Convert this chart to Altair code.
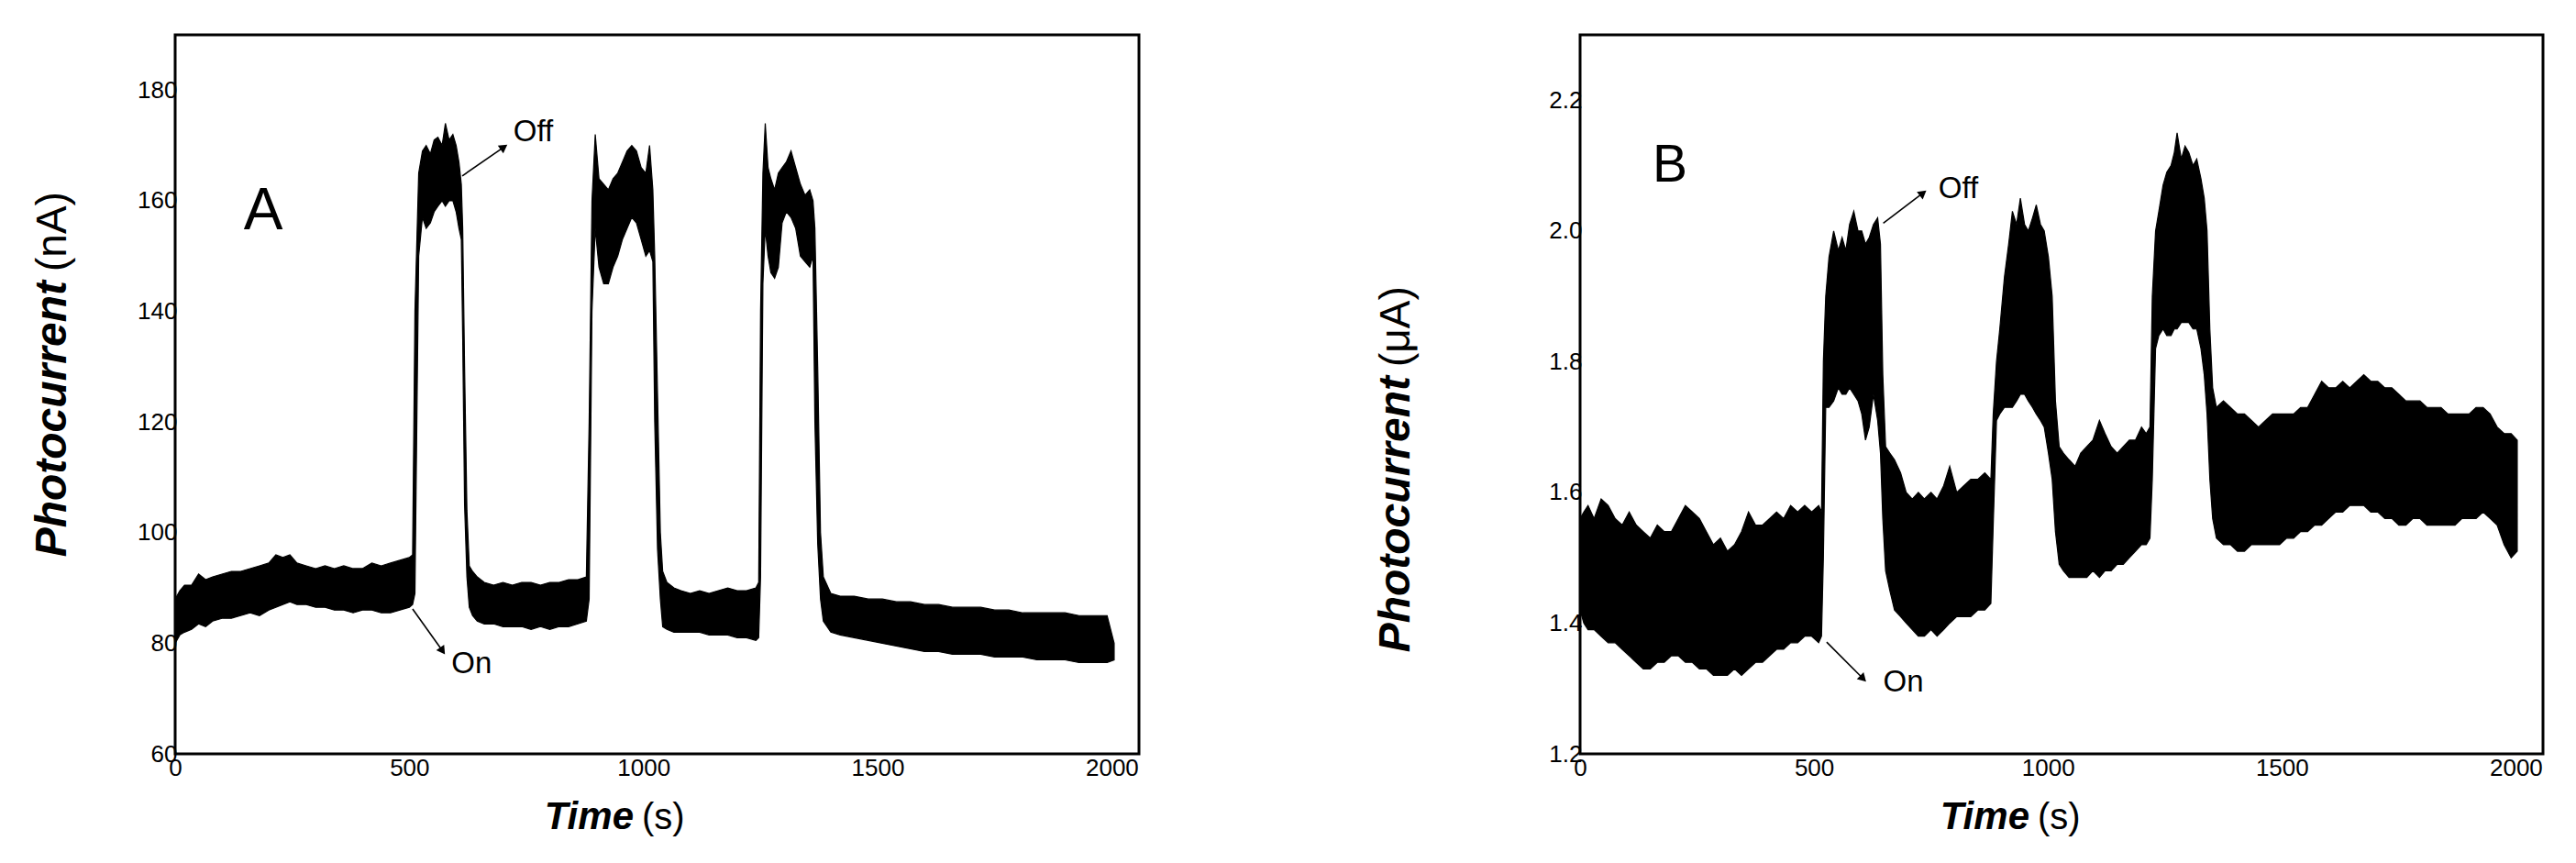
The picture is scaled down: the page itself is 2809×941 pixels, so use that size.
import altair as alt
import pandas as pd

FONT = "Liberation Sans"

# ---------------- Panel A : photocurrent (nA) vs time (s) ----------------
# envelope of the noisy trace: time, lower edge, upper edge
A_T = [0, 10, 20, 35, 50, 65, 80, 100, 120, 140, 160, 180, 200, 215, 230, 245, 260, 280, 300, 320,
       340, 360, 380, 400, 420, 440, 460, 480, 500, 507, 512, 520, 528, 536, 545, 553, 561, 570, 577, 585,
       593, 600, 606, 611, 614, 618, 623, 628, 635, 645, 660, 680, 700, 720, 740, 760, 780, 800, 820, 840,
       860, 878, 884, 890, 897, 905, 915, 925, 935, 945, 955, 965, 975, 985, 995, 1005, 1013, 1020, 1024, 1030,
       1036, 1041, 1050, 1065, 1080, 1100, 1120, 1140, 1160, 1180, 1200, 1220, 1240, 1246, 1250, 1255, 1260, 1266, 1272, 1280,
       1288, 1296, 1305, 1315, 1325, 1335, 1345, 1355, 1362, 1366, 1372, 1378, 1384, 1400, 1420, 1450, 1480, 1510, 1540, 1570,
       1600, 1630, 1660, 1690, 1720, 1750, 1780, 1810, 1840, 1870, 1900, 1930, 1960, 1990, 2005]
A_LO = [80, 81.5, 82, 82.5, 83.5, 83, 84, 84.5, 84.5, 85, 85.5, 85, 86, 86.5, 87, 87.5, 87, 87, 86.5, 86.5,
        86, 86, 85.5, 86, 86, 85.5, 85.5, 86, 86.5, 87, 89, 150, 157, 155, 156, 158, 159, 160, 159, 160,
        160, 158, 155, 153, 135, 105, 92, 86.5, 85, 84, 83.5, 83.5, 83, 83, 83, 82.5, 83, 82.5, 83, 83,
        83.5, 84, 88, 140, 155, 148, 145, 145, 148, 150, 153, 155, 157, 156, 153, 150, 151, 149, 120, 97,
        88, 83, 82.5, 82, 82, 82, 82, 81.5, 81.5, 81.5, 81, 81, 80.5, 81, 92, 145, 155, 150, 147, 146,
        148, 156, 158, 157, 155, 150, 149, 148, 150, 120, 98, 88, 84, 82, 81.5, 81, 80.5, 80, 79.5, 79,
        78.5, 78.5, 78, 78, 78, 77.5, 77.5, 77.5, 77, 77, 77, 76.5, 76.5, 76.5, 77]
A_HI = [88, 89.5, 90.5, 90.5, 92.5, 91.5, 92, 92.5, 93, 93, 93.5, 94, 94.5, 96, 95.5, 96, 94.5, 94, 93.5, 94,
        93.5, 94, 93.5, 93.5, 94.5, 94, 94.5, 95, 95.5, 96, 140, 165, 169, 170, 168.5, 171, 171.5, 170, 174, 171,
        172, 170, 167, 163, 155, 130, 104, 94, 93, 92, 91, 90.5, 91, 90.5, 91, 91, 90.5, 91, 91, 91.5,
        91.5, 92, 120, 160, 172, 164, 163, 162, 164, 165, 167, 169, 170, 169, 166, 165, 170, 162, 150, 125,
        100, 93, 91, 90, 89.5, 89, 89.5, 89, 89.5, 90, 89.5, 89.5, 90, 91, 140, 165, 174, 166, 164, 162,
        165, 166, 167, 169, 166, 163, 161, 162, 160, 155, 130, 100, 92, 89, 88.5, 88.5, 88, 88, 87.5, 87.5,
        87, 87, 86.5, 86.5, 86.5, 86, 86, 85.5, 85.5, 85.5, 85.5, 85, 85, 85, 80]

A_Y_TICKS = [60, 80, 100, 120, 140, 160, 180]
A_Y_DOMAIN = [60, 190]

# arrows (start -> end, arrow head at the end) and their labels
A_ARROW_T = [613, 507]
A_ARROW_V = [164.5, 86.2]
A_ARROW_T2 = [702, 571]
A_ARROW_V2 = [169.7, 78.6]
A_HEAD_ANGLE = [55, 145]
A_NOTE_TEXT = ["Off", "On"]
A_NOTE_T = [722, 590]
A_NOTE_V = [172.5, 76.3]
A_LETTER = ["A"]
A_LETTER_T = [188]
A_LETTER_V = [158]

# ---------------- Panel B : photocurrent (uA) vs time (s) ----------------
B_T = [0, 8, 17, 30, 45, 60, 75, 90, 105, 120, 135, 150, 165, 180, 195, 210, 225, 240, 255, 270,
       285, 300, 315, 330, 345, 360, 375, 390, 405, 420, 435, 450, 465, 480, 495, 510, 516, 520, 525, 532,
       542, 552, 560, 568, 576, 585, 594, 602, 610, 618, 627, 636, 642, 647, 653, 662, 672, 685, 697, 710,
       723, 736, 750, 763, 777, 790, 805, 820, 835, 850, 865, 878, 883, 890, 897, 907, 916, 924, 933, 941,
       950, 958, 967, 975, 984, 992, 1001, 1009, 1016, 1024, 1033, 1045, 1058, 1070, 1083, 1096, 1110, 1122, 1135, 1148,
       1161, 1174, 1187, 1200, 1210, 1218, 1223, 1230, 1237, 1246, 1254, 1263, 1270, 1276, 1285, 1293, 1301, 1310, 1318, 1327,
       1334, 1340, 1346, 1352, 1360, 1375, 1390, 1405, 1420, 1435, 1450, 1465, 1480, 1495, 1510, 1525, 1540, 1555, 1570, 1585,
       1600, 1615, 1630, 1645, 1660, 1675, 1690, 1705, 1720, 1735, 1750, 1765, 1780, 1795, 1810, 1825, 1840, 1855, 1870, 1885,
       1900, 1915, 1930, 1945, 1960, 1975, 1990, 2003]
B_LO = [1.42, 1.40, 1.39, 1.39, 1.38, 1.37, 1.37, 1.36, 1.35, 1.34, 1.33, 1.33, 1.34, 1.34, 1.35, 1.35, 1.34, 1.34, 1.33, 1.33,
        1.32, 1.32, 1.32, 1.33, 1.32, 1.33, 1.34, 1.34, 1.35, 1.36, 1.36, 1.37, 1.37, 1.38, 1.38, 1.37, 1.38, 1.50, 1.73, 1.73,
        1.74, 1.76, 1.75, 1.75, 1.76, 1.75, 1.74, 1.72, 1.68, 1.70, 1.75, 1.71, 1.66, 1.56, 1.48, 1.45, 1.42, 1.41, 1.40, 1.39,
        1.38, 1.38, 1.39, 1.38, 1.39, 1.40, 1.41, 1.41, 1.41, 1.42, 1.42, 1.43, 1.55, 1.71, 1.72, 1.73, 1.73, 1.73, 1.74, 1.75,
        1.75, 1.74, 1.73, 1.72, 1.71, 1.70, 1.66, 1.62, 1.54, 1.49, 1.48, 1.47, 1.47, 1.47, 1.47, 1.48, 1.47, 1.48, 1.48, 1.49,
        1.49, 1.50, 1.51, 1.52, 1.52, 1.53, 1.62, 1.82, 1.84, 1.85, 1.84, 1.84, 1.85, 1.85, 1.86, 1.86, 1.86, 1.85, 1.85, 1.82,
        1.78, 1.72, 1.62, 1.56, 1.53, 1.52, 1.52, 1.51, 1.51, 1.52, 1.52, 1.52, 1.52, 1.52, 1.53, 1.53, 1.54, 1.54, 1.55, 1.55,
        1.56, 1.57, 1.57, 1.58, 1.58, 1.58, 1.57, 1.57, 1.56, 1.56, 1.55, 1.55, 1.56, 1.56, 1.55, 1.55, 1.55, 1.55, 1.55, 1.56,
        1.56, 1.56, 1.57, 1.56, 1.55, 1.52, 1.50, 1.51]
B_HI = [1.56, 1.57, 1.58, 1.56, 1.59, 1.58, 1.56, 1.55, 1.57, 1.55, 1.54, 1.53, 1.55, 1.54, 1.54, 1.56, 1.58, 1.57, 1.56, 1.54,
        1.52, 1.53, 1.51, 1.52, 1.54, 1.57, 1.55, 1.55, 1.56, 1.57, 1.56, 1.58, 1.57, 1.58, 1.57, 1.58, 1.57, 1.80, 1.90, 1.96,
        2.00, 1.97, 1.99, 1.97, 2.01, 2.03, 2.00, 2.00, 1.98, 1.99, 2.01, 2.02, 1.98, 1.78, 1.67, 1.66, 1.65, 1.63, 1.60, 1.59,
        1.60, 1.59, 1.60, 1.59, 1.61, 1.64, 1.60, 1.61, 1.62, 1.62, 1.63, 1.62, 1.72, 1.80, 1.85, 1.93, 1.98, 2.03, 2.01, 2.05,
        2.01, 2.00, 2.02, 2.04, 2.01, 2.00, 1.96, 1.90, 1.74, 1.67, 1.66, 1.65, 1.64, 1.66, 1.67, 1.68, 1.71, 1.69, 1.67, 1.66,
        1.67, 1.68, 1.68, 1.70, 1.69, 1.70, 1.90, 2.00, 2.03, 2.07, 2.09, 2.10, 2.12, 2.15, 2.11, 2.13, 2.12, 2.10, 2.11, 2.08,
        2.05, 2.00, 1.85, 1.76, 1.73, 1.74, 1.73, 1.72, 1.72, 1.71, 1.70, 1.71, 1.72, 1.72, 1.72, 1.72, 1.73, 1.73, 1.75, 1.77,
        1.76, 1.76, 1.77, 1.76, 1.77, 1.78, 1.77, 1.77, 1.76, 1.76, 1.75, 1.74, 1.74, 1.74, 1.73, 1.73, 1.73, 1.72, 1.72, 1.72,
        1.72, 1.73, 1.73, 1.72, 1.70, 1.69, 1.69, 1.68]

B_Y_TICKS = [1.2, 1.4, 1.6, 1.8, 2.0, 2.2]
B_Y_DOMAIN = [1.2, 2.3]

B_ARROW_T = [648, 527]
B_ARROW_V = [2.012, 1.371]
B_ARROW_T2 = [733, 605]
B_ARROW_V2 = [2.058, 1.315]
B_HEAD_ANGLE = [52, 135]
B_NOTE_TEXT = ["Off", "On"]
B_NOTE_T = [766, 648]
B_NOTE_V = [2.064, 1.31]
B_LETTER = ["B"]
B_LETTER_T = [192]
B_LETTER_V = [2.10]

X_TICKS = [0, 500, 1000, 1500, 2000]
X_DOMAIN = [0, 2058]


def panel(t, lo, hi, ydom, yticks, yfmt,
          at, av, at2, av2, ang, ntext, nt, nv, letter, lt, lv, letter_size,
          unit, width, ytitle_x, ytitle_join, ytitle_size, xtitle_join):
    xs = alt.Scale(domain=X_DOMAIN, nice=False, zero=False)
    ys = alt.Scale(domain=ydom, nice=False, zero=False)
    xax = alt.Axis(values=X_TICKS, format="d", title=None)
    yax = alt.Axis(values=yticks, format=yfmt, title=None)

    trace_df = pd.DataFrame({"t": t, "lo": lo, "hi": hi})
    trace = alt.Chart(trace_df).mark_area(
        fill="black", stroke="black", strokeWidth=1.2, interpolate="linear"
    ).encode(
        x=alt.X("t:Q", scale=xs, axis=xax),
        y=alt.Y("lo:Q", scale=ys, axis=yax),
        y2="hi:Q",
    )

    arr_df = pd.DataFrame({"t": at, "lo": av, "t2": at2, "hi": av2, "ang": ang})
    arrows = alt.Chart(arr_df).mark_rule(color="black", strokeWidth=1.6).encode(
        x=alt.X("t:Q", scale=xs, title=None),
        y=alt.Y("lo:Q", scale=ys, title=None),
        x2="t2:Q",
        y2="hi:Q",
    )
    heads = alt.Chart(arr_df).mark_point(
        shape="triangle-up", filled=True, color="black", opacity=1, size=110
    ).encode(
        x=alt.X("t2:Q", scale=xs, title=None),
        y=alt.Y("hi:Q", scale=ys, title=None),
        angle=alt.Angle("ang:Q", scale=None),
    )

    note_df = pd.DataFrame({"t": nt, "lo": nv, "label": ntext})
    notes = alt.Chart(note_df).mark_text(
        font=FONT, fontSize=33, align="left", baseline="middle", color="black"
    ).encode(
        x=alt.X("t:Q", scale=xs, title=None),
        y=alt.Y("lo:Q", scale=ys, title=None),
        text="label:N",
    )

    letter_df = pd.DataFrame({"t": lt, "lo": lv, "label": letter})
    letter_mark = alt.Chart(letter_df).mark_text(
        font=FONT, fontSize=letter_size, align="center", baseline="middle", color="black"
    ).encode(
        x=alt.X("t:Q", scale=xs, title=None),
        y=alt.Y("lo:Q", scale=ys, title=None),
        text="label:N",
    )

    one = pd.DataFrame({"a": [0]})
    ytitle_main = alt.Chart(one).mark_text(
        text="Photocurrent", font=FONT, fontSize=ytitle_size, fontStyle="italic",
        fontWeight="bold", angle=270, align="right", baseline="alphabetic", color="black"
    ).encode(x=alt.value(ytitle_x), y=alt.value(ytitle_join))
    ytitle_unit = alt.Chart(one).mark_text(
        text=unit, font=FONT, fontSize=ytitle_size - 2, angle=270, align="left",
        baseline="alphabetic", color="black"
    ).encode(x=alt.value(ytitle_x), y=alt.value(ytitle_join - 10))

    xtitle_main = alt.Chart(one).mark_text(
        text="Time", font=FONT, fontSize=42, fontStyle="italic", fontWeight="bold",
        align="right", baseline="alphabetic", color="black"
    ).encode(x=alt.value(xtitle_join), y=alt.value(866))
    xtitle_unit = alt.Chart(one).mark_text(
        text="(s)", font=FONT, fontSize=40, align="left", baseline="alphabetic", color="black"
    ).encode(x=alt.value(xtitle_join + 9), y=alt.value(866))

    return alt.layer(
        trace, arrows, heads, notes, letter_mark,
        ytitle_main, ytitle_unit, xtitle_main, xtitle_unit
    ).properties(width=width, height=784)


panel_a = panel(A_T, A_LO, A_HI, A_Y_DOMAIN, A_Y_TICKS, "d",
                A_ARROW_T, A_ARROW_V, A_ARROW_T2, A_ARROW_V2, A_HEAD_ANGLE,
                A_NOTE_TEXT, A_NOTE_T, A_NOTE_V, A_LETTER, A_LETTER_T, A_LETTER_V, 64,
                "(nA)", 1051, -119, 268, 48, 500)
panel_b = panel(B_T, B_LO, B_HI, B_Y_DOMAIN, B_Y_TICKS, ".1f",
                B_ARROW_T, B_ARROW_V, B_ARROW_T2, B_ARROW_V2, B_HEAD_ANGLE,
                B_NOTE_TEXT, B_NOTE_T, B_NOTE_V, B_LETTER, B_LETTER_T, B_LETTER_V, 57,
                "(\u03bcA)", 1050, -186, 372, 48, 490)

chart = alt.hconcat(panel_a, panel_b, spacing=253).properties(
    padding={"left": 24, "top": 28, "right": 5, "bottom": 5},
    background="white",
).configure_view(
    stroke="black", strokeWidth=3
).configure_axis(
    labelFont=FONT, labelFontSize=26, labelColor="black", ticks=False, tickSize=0,
    domain=False, grid=False, labelFlush=False
).configure_axisX(
    labelPadding=2
).configure_axisY(
    labelPadding=-2
)

chart.save("out.html", embed_options={"renderer": "svg", "actions": False})
